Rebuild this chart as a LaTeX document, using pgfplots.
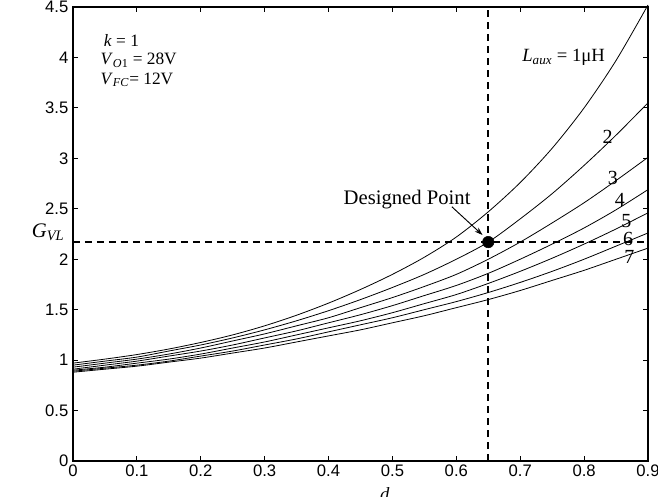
\documentclass[border=0pt]{standalone}
\usepackage{fontspec}
\setmainfont{Liberation Serif}
\newfontfamily\arialfont{Liberation Sans}
\usepackage{pgfplots}
\usepackage{pgfplotstable}
\pgfplotsset{compat=1.18}
\usetikzlibrary{arrows.meta}

% G_VL versus duty cycle d, one column per L_aux (1..7 uH)
\pgfplotstableread{
d     L1     L2    L3    L4    L5    L6    L7
0.00  0.97   0.95  0.93  0.91  0.90  0.89  0.88
0.05  1.01   0.99  0.97  0.95  0.93  0.92  0.91
0.10  1.055  1.03  1.01  0.99  0.97  0.95  0.94
0.15  1.11   1.09  1.06  1.04  1.01  0.99  0.98
0.20  1.175  1.15  1.12  1.09  1.06  1.04  1.02
0.25  1.25   1.22  1.19  1.15  1.12  1.09  1.07
0.30  1.34   1.30  1.26  1.22  1.18  1.15  1.12
0.35  1.445  1.39  1.34  1.29  1.25  1.21  1.18
0.40  1.565  1.49  1.42  1.37  1.32  1.28  1.24
0.45  1.70   1.60  1.52  1.45  1.39  1.35  1.30
0.50  1.85   1.72  1.62  1.54  1.47  1.42  1.37
0.55  2.02   1.85  1.73  1.64  1.56  1.50  1.44
0.60  2.22   2.00  1.85  1.74  1.65  1.58  1.52
0.65  2.47   2.17  2.00  1.86  1.76  1.67  1.60
0.70  2.76   2.40  2.17  2.00  1.88  1.77  1.69
0.75  3.10   2.65  2.36  2.15  2.01  1.88  1.79
0.80  3.50   2.93  2.56  2.31  2.15  2.00  1.89
0.85  3.97   3.23  2.78  2.49  2.30  2.13  2.00
0.90  4.52   3.55  3.01  2.69  2.46  2.26  2.11
}\gvl

\begin{document}
\begin{tikzpicture}
\useasboundingbox (-54.75pt,-27pt) rectangle (438.75pt,345.75pt);
\begin{axis}[
    at={(0,0)}, anchor=south west,
    scale only axis,
    width=431.25pt, height=340.5pt,
    xmin=0, xmax=0.9, ymin=0, ymax=4.5,
    xtick={0,0.1,0.2,0.3,0.4,0.5,0.6,0.7,0.8,0.9},
    ytick={0,0.5,1,1.5,2,2.5,3,3.5,4,4.5},
    tick align=inside,
    tick pos=both,
    major tick length=3.75pt,
    axis line style={line width=0.8pt},
    every tick/.style={line width=0.8pt, black},
    ticklabel style={font=\arialfont\fontsize{12.5}{14}\selectfont},
    xticklabel style={yshift=1pt},
    /pgf/number format/assume math mode=true,
    clip=false,
]
\foreach \c in {L1,L2,L3,L4,L5,L6,L7} {
    \addplot[black, line width=0.6pt, smooth, no markers] table[x=d, y=\c]{\gvl};
}
\addplot[black, line width=1.3pt, dash pattern=on 5.25pt off 3.75pt] coordinates {(0.65,0) (0.65,4.5)};
\addplot[black, line width=1.2pt, dash pattern=on 5.25pt off 3.75pt] coordinates {(0,2.17) (0.9,2.17)};
\addplot[black, only marks, mark=*, mark size=4.3pt] coordinates {(0.65,2.17)};

\draw[black, line width=0.7pt, -{Stealth[length=6pt,width=4pt]}] (axis cs:0.593,2.52) -- (axis cs:0.641,2.24);

\node[font=\fontsize{15.5}{18}\selectfont] at (axis cs:0.523,2.59) {Designed Point};

\begin{scope}[every node/.style={anchor=west, inner sep=0pt, font=\fontsize{13}{15}\selectfont}]
\node at (axis cs:0.048,4.17) {\textit{k} = 1};
\node at (axis cs:0.043,3.97) {\textit{V}\textsubscript{\textit{O}1} = 28V};
\node at (axis cs:0.043,3.78) {\textit{V}\textsubscript{\textit{FC}}= 12V};
\end{scope}

\node[font=\fontsize{14}{16}\selectfont] at (axis cs:0.768,4.0) {\textit{L}\textsubscript{\textit{aux}} = 1μH};

\begin{scope}[every node/.style={inner sep=0pt, font=\fontsize{15}{17}\selectfont}]
\node at (axis cs:0.837,3.21) {2};
\node at (axis cs:0.845,2.81) {3};
\node at (axis cs:0.856,2.59) {4};
\node at (axis cs:0.866,2.38) {5};
\node at (axis cs:0.869,2.20) {6};
\node at (axis cs:0.871,2.02) {7};
\end{scope}

\node[font=\fontsize{15.5}{18}\selectfont] at (axis cs:-0.039,2.27) {\textit{G}\textsubscript{\textit{VL}}};
\node[anchor=north, inner sep=0pt, font=\fontsize{14}{16}\selectfont] at ([yshift=-19.5pt]axis cs:0.488,0) {\textit{d}};
\end{axis}
\end{tikzpicture}
\end{document}
